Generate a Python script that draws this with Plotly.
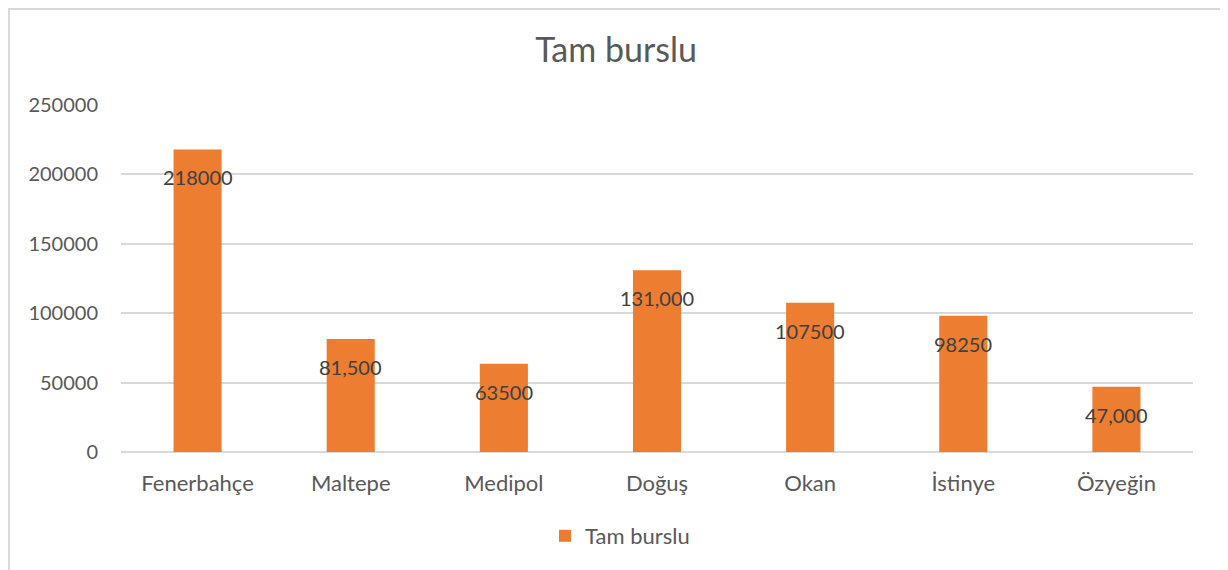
import plotly.graph_objects as go

categories = ["Fenerbahçe", "Maltepe", "Medipol", "Doğuş", "Okan", "İstinye", "Özyeğin"]
values = [218000, 81500, 63500, 131000, 107500, 98250, 47000]
value_labels = ["218000", "81,500", "63500", "131,000", "107500", "98250", "47,000"]
y_ticks = [0, 50000, 100000, 150000, 200000, 250000]
series_name = "Tam burslu"
title_text = "Tam burslu"

W, H = 1228, 570
OFF = 8  # page body margin offset
ML, MT = 121 - OFF, 105 - OFF
pw, ph = 1072, 347
MR = W - ML - pw
MB = H - MT - ph

def px_x(p):
    return (p - OFF - ML) / pw

def px_y(p):
    return (MT + ph - (p - OFF)) / ph

FONT = "Lato, 'Open Sans', sans-serif"
GREY = "#595959"
ORANGE = "#ED7D31"

fig = go.Figure()
fig.add_trace(go.Bar(
    x=categories, y=values, name=series_name,
    marker=dict(color=ORANGE, line=dict(width=0)),
    showlegend=True,
))

for c, v, t in zip(categories, values, value_labels):
    fig.add_annotation(x=c, y=v, text=t, showarrow=False, yanchor="middle",
                       yshift=-28, font=dict(family=FONT, size=20, color="#404040"))

fig.add_shape(type="rect", xref="paper", yref="paper",
              x0=px_x(9), x1=px_x(1221), y0=px_y(620), y1=px_y(9),
              line=dict(color="#D9D9D9", width=2), fillcolor="rgba(0,0,0,0)", layer="below")

fig.update_layout(
    width=W, height=H,
    margin=dict(l=ML, r=MR, t=MT, b=MB),
    paper_bgcolor="white", plot_bgcolor="white",
    bargap=0.686,
    title=dict(text=title_text, x=(616 - OFF) / W, xref="container", xanchor="center",
               y=1 - (50 - OFF) / H, yref="container", yanchor="middle",
               font=dict(family=FONT, size=34, color=GREY)),
    legend=dict(orientation="h", x=(620 - OFF) / W, xref="container", xanchor="center",
                y=1 - (536 - OFF) / H, yref="container", yanchor="middle",
                font=dict(family=FONT, size=22, color=GREY),
                itemsizing="constant"),
    xaxis=dict(showgrid=False, showline=False, ticks="", zeroline=False,
               tickfont=dict(family=FONT, size=22, color=GREY),
               ticklabelstandoff=16),
    yaxis=dict(range=[0, 250000], tickvals=y_ticks, tickformat="d",
               showgrid=True, gridcolor="#D9D9D9", gridwidth=2,
               zeroline=True, zerolinecolor="#D9D9D9", zerolinewidth=2,
               showline=False, ticks="",
               tickfont=dict(family=FONT, size=20, color=GREY),
               ticklabelstandoff=22),
)

fig.write_html("out.html")
